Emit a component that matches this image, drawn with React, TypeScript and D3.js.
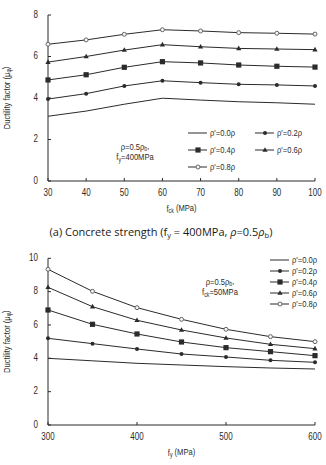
import React from "react";
import * as d3 from "d3";

// Panel (a): ductility factor vs. concrete strength
const fckValues = [30, 40, 50, 60, 70, 80, 90, 100];
const fckRho00 = [3.12, 3.37, 3.7, 3.99, 3.9, 3.82, 3.77, 3.7];
const fckRho02 = [3.95, 4.21, 4.58, 4.83, 4.74, 4.66, 4.63, 4.58];
const fckRho04 = [4.87, 5.12, 5.48, 5.75, 5.69, 5.59, 5.53, 5.49];
const fckRho06 = [5.73, 6.0, 6.31, 6.57, 6.47, 6.39, 6.36, 6.33];
const fckRho08 = [6.59, 6.8, 7.07, 7.29, 7.23, 7.15, 7.12, 7.08];
const fckTicks = [30, 40, 50, 60, 70, 80, 90, 100];
const fckYTicks = [0, 2, 4, 6, 8];

// Panel (b): ductility factor vs. steel yield strength
const fyValues = [300, 350, 400, 450, 500, 550, 600];
const fyRho00 = [4.0, 3.85, 3.7, 3.6, 3.5, 3.42, 3.36];
const fyRho02 = [5.2, 4.88, 4.56, 4.26, 4.08, 3.88, 3.76];
const fyRho04 = [6.9, 6.04, 5.46, 4.98, 4.64, 4.4, 4.16];
const fyRho06 = [8.26, 7.1, 6.28, 5.7, 5.22, 4.84, 4.58];
const fyRho08 = [9.34, 8.02, 7.04, 6.34, 5.74, 5.3, 5.0];
const fyTicks = [300, 400, 500, 600];
const fyYTicks = [0, 2, 4, 6, 8, 10];

const seriesLabels = ["0.0", "0.2", "0.4", "0.6", "0.8"];
type Marker = "none" | "dot" | "square" | "triangle" | "circle";
const seriesMarkers: Marker[] = ["none", "dot", "square", "triangle", "circle"];

const INK = "#2b2b2b";
const SANS = "'Liberation Sans', Arial, sans-serif";
const SQUEEZE = 0.8;

// Horizontally condensed text, drawn at (x, y)
function NText({
  x,
  y,
  size = 9.5,
  anchor = "start",
  rotate = 0,
  children,
}: {
  x: number;
  y: number;
  size?: number;
  anchor?: "start" | "middle" | "end";
  rotate?: number;
  children: React.ReactNode;
}) {
  return (
    <g transform={`translate(${x},${y}) rotate(${rotate}) scale(${SQUEEZE},1)`}>
      <text
        x={0}
        y={0}
        textAnchor={anchor}
        dominantBaseline="middle"
        fontSize={size}
        fontFamily={SANS}
        fill={INK}
      >
        {children}
      </text>
    </g>
  );
}

function MarkerShape({ kind, x, y }: { kind: Marker; x: number; y: number }) {
  if (kind === "dot") return <circle cx={x} cy={y} r={2} fill={INK} />;
  if (kind === "square") return <rect x={x - 2.6} y={y - 2.6} width={5.2} height={5.2} fill={INK} />;
  if (kind === "triangle")
    return <path d={`M${x},${y - 2.8}L${x + 2.6},${y + 1.8}L${x - 2.6},${y + 1.8}Z`} fill={INK} />;
  if (kind === "circle")
    return <circle cx={x} cy={y} r={2} fill="#f4f4f4" stroke="#666" strokeWidth={1} />;
  return null;
}

type PanelProps = {
  xs: number[];
  series: number[][];
  xDomain: [number, number];
  yDomain: [number, number];
  xTicks: number[];
  yTicks: number[];
  top: number;
  bottom: number;
  xTitle: React.ReactNode;
  legend: { x: number; y: number; label: string; marker: Marker }[];
  note: { x: number; y: number; lines: React.ReactNode[] };
};

function Panel(p: PanelProps) {
  const x = d3.scaleLinear().domain(p.xDomain).range([48, 315]);
  const y = d3.scaleLinear().domain(p.yDomain).range([p.bottom, p.top]);
  const line = d3
    .line<number>()
    .x((_, i) => x(p.xs[i]))
    .y((d) => y(d));
  const midY = (p.top + p.bottom) / 2;
  return (
    <g>
      {/* axes */}
      <line x1={x.range()[0]} x2={x.range()[1]} y1={p.bottom} y2={p.bottom} stroke={INK} strokeWidth={1} />
      <line x1={48} x2={48} y1={p.top} y2={p.bottom} stroke={INK} strokeWidth={1} />
      {p.xTicks.map((t) => (
        <g key={"xt" + t}>
          <line x1={x(t)} x2={x(t)} y1={p.bottom} y2={p.bottom - 3} stroke={INK} />
          <NText x={x(t)} y={p.bottom + 12} size={10} anchor="middle">
            {t}
          </NText>
        </g>
      ))}
      {p.yTicks.map((t) => (
        <g key={"yt" + t}>
          <line x1={48} x2={51} y1={y(t)} y2={y(t)} stroke={INK} />
          <NText x={38} y={y(t)} size={10} anchor="end">
            {t}
          </NText>
        </g>
      ))}
      <NText x={7} y={midY} size={9.5} anchor="middle" rotate={-90}>
        Ductility  factor  (μ<tspan fontSize={6.5} dy={2}>φ</tspan><tspan dy={-2}>)</tspan>
      </NText>
      <NText x={x((p.xDomain[0] + p.xDomain[1]) / 2)} y={p.bottom + 28} size={9.5} anchor="middle">
        {p.xTitle}
      </NText>
      {/* series */}
      {p.series.map((s, k) => (
        <g key={"s" + k}>
          <path d={line(s) || ""} fill="none" stroke={INK} strokeWidth={1} />
          {s.map((v, i) => (
            <MarkerShape key={i} kind={seriesMarkers[k]} x={x(p.xs[i])} y={y(v)} />
          ))}
        </g>
      ))}
      {/* legend */}
      {p.legend.map((l, i) => (
        <g key={"lg" + i}>
          <line x1={l.x} x2={l.x + 19} y1={l.y} y2={l.y} stroke={INK} strokeWidth={1} />
          <MarkerShape kind={l.marker} x={l.x + 10} y={l.y} />
          <NText x={l.x + 22} y={l.y + 0.5} size={9.5}>
            ρ'={l.label}ρ
          </NText>
        </g>
      ))}
      {p.note.lines.map((ln, i) => (
        <NText key={"n" + i} x={p.note.x} y={p.note.y + i * 10.5} size={9.5} anchor="middle">
          {ln}
        </NText>
      ))}
    </g>
  );
}

export default function App() {
  const legendA = seriesLabels.map((lab, i) => ({
    x: 188,
    y: 133 + Math.floor(i / 2) * 17,
    label: lab,
    marker: seriesMarkers[i],
  })).map((l, i) => ({ ...l, x: i % 2 === 0 ? 188 : 255 }));
  const legendB = seriesLabels.map((lab, i) => ({
    x: 270,
    y: 260 + i * 11,
    label: lab,
    marker: seriesMarkers[i],
  }));
  return (
    <svg width={326} height={465} style={{ position: "absolute", left: 0, top: 0, background: "#fff" }}>
      <rect width={326} height={465} fill="#fff" />
      <Panel
        xs={fckValues}
        series={[fckRho00, fckRho02, fckRho04, fckRho06, fckRho08]}
        xDomain={[30, 100]}
        yDomain={[0, 8]}
        xTicks={fckTicks}
        yTicks={fckYTicks}
        top={15}
        bottom={181}
        xTitle={
          <>
            f<tspan fontSize={6.5} dy={2}>ck</tspan>
            <tspan dy={-2}> (MPa)</tspan>
          </>
        }
        legend={legendA}
        note={{
          x: 135,
          y: 147,
          lines: [
            <>ρ=0.5ρ<tspan fontSize={6.5} dy={2}>b</tspan><tspan dy={-2}>,</tspan></>,
            <>f<tspan fontSize={6.5} dy={2}>y</tspan><tspan dy={-2}>=400MPa</tspan></>,
          ],
        }}
      />
      <text x={161} y={236} textAnchor="middle" fontSize={11} fontFamily="'Open Sans', 'Noto Sans', sans-serif" fill="#1a1a1a">
        (a) Concrete strength (f<tspan fontSize={7.5} dy={2}>y</tspan><tspan dy={-2}> = 400MPa, </tspan>
        <tspan fontStyle="italic">ρ</tspan>=0.5<tspan fontStyle="italic">ρ</tspan>
        <tspan fontSize={7.5} dy={2}>b</tspan><tspan dy={-2}>)</tspan>
      </text>
      <Panel
        xs={fyValues}
        series={[fyRho00, fyRho02, fyRho04, fyRho06, fyRho08]}
        xDomain={[300, 600]}
        yDomain={[0, 10]}
        xTicks={fyTicks}
        yTicks={fyYTicks}
        top={258.3}
        bottom={425}
        xTitle={
          <>
            f<tspan fontSize={6.5} dy={2}>y</tspan>
            <tspan dy={-2}> (MPa)</tspan>
          </>
        }
        legend={legendB}
        note={{
          x: 220,
          y: 282,
          lines: [
            <>ρ=0.5ρ<tspan fontSize={6.5} dy={2}>b</tspan><tspan dy={-2}>,</tspan></>,
            <>f<tspan fontSize={6.5} dy={2}>ck</tspan><tspan dy={-2}>=50MPa</tspan></>,
          ],
        }}
      />
    </svg>
  );
}
